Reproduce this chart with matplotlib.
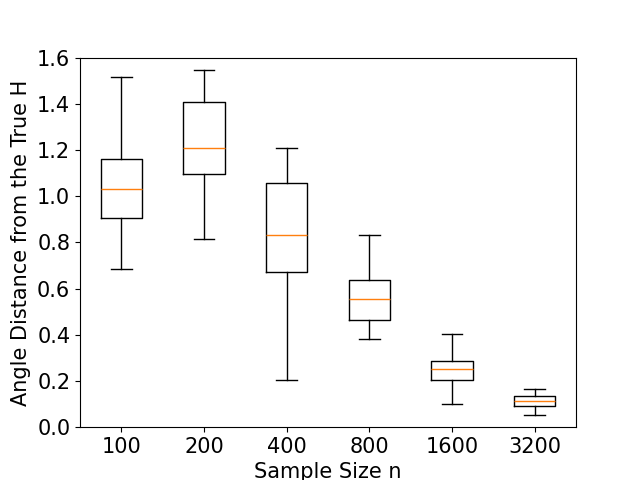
import matplotlib
matplotlib.use("Agg")
import matplotlib.pyplot as plt

sizes = ["100", "200", "400", "800", "1600", "3200"]
whislo = [0.683, 0.813, 0.204, 0.383, 0.100, 0.052]
q1 = [0.904, 1.096, 0.674, 0.465, 0.204, 0.091]
med = [1.030, 1.209, 0.830, 0.557, 0.252, 0.113]
q3 = [1.161, 1.409, 1.057, 0.639, 0.287, 0.135]
whishi = [1.517, 1.548, 1.209, 0.830, 0.404, 0.165]

stats = []
for i in range(len(sizes)):
    stats.append(dict(label=sizes[i], whislo=whislo[i], q1=q1[i], med=med[i],
                      q3=q3[i], whishi=whishi[i], fliers=[]))

plt.rcParams['font.size'] = 15
fig, ax = plt.subplots(figsize=(6.4, 4.8), dpi=100)
ax.bxp(stats, showfliers=False)
ax.set_ylim(0, 1.6)
ax.set_xlabel("Sample Size n")
ax.set_ylabel("Angle Distance from the True H")
fig.savefig("out.png")
